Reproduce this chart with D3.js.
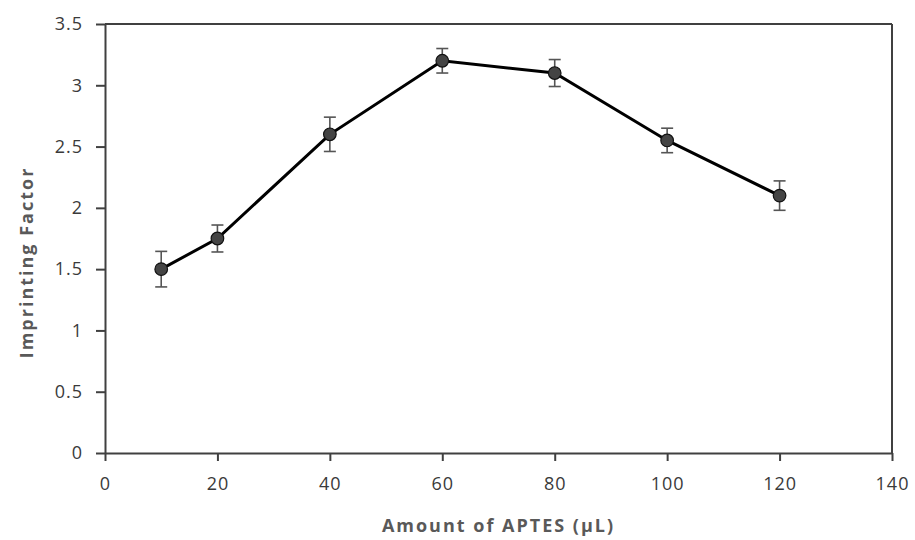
<!DOCTYPE html>
<html>
<head>
<meta charset="utf-8">
<script src="https://cdn.jsdelivr.net/npm/d3@7"></script>
<style>
  body { margin: 0; background: #fff; }
  svg { display: block; font-family: "Open Sans", "DejaVu Sans", sans-serif; }
</style>
</head>
<body>
<script>
// data
var aptes = [10, 20, 40, 60, 80, 100, 120];
var factor = [1.5, 1.75, 2.6, 3.2, 3.1, 2.55, 2.1];
var errors = [0.145, 0.11, 0.14, 0.1, 0.11, 0.1, 0.12];
var xTicks = [0, 20, 40, 60, 80, 100, 120, 140];
var yTicks = [0, 0.5, 1, 1.5, 2, 2.5, 3, 3.5];

var margin = {top: 24, right: 23, bottom: 87, left: 105};
var width = 915 - margin.left - margin.right;
var height = 540 - margin.top - margin.bottom;

var svg = d3.select("body").append("svg")
    .attr("width", 915)
    .attr("height", 540)
    .append("g")
    .attr("transform", "translate(" + margin.left + "," + margin.top + ")");

var x = d3.scaleLinear().domain([0, 140]).range([0, width]);
var y = d3.scaleLinear().domain([0, 3.5]).range([height, 0]);

// axes
var xAxis = svg.append("g")
    .attr("transform", "translate(0," + height + ")")
    .call(d3.axisBottom(x).tickValues(xTicks).tickSize(8).tickPadding(16).tickSizeOuter(0));

var yAxis = svg.append("g")
    .call(d3.axisLeft(y).tickValues(yTicks).tickSize(9).tickPadding(13).tickSizeOuter(0)
        .tickFormat(function (d) { return d; }));

[xAxis, yAxis].forEach(function (a) {
    a.attr("font-family", null).attr("font-size", null);
    a.select(".domain").attr("stroke", "#404040").attr("stroke-width", 2);
    a.selectAll(".tick line").attr("stroke", "#404040").attr("stroke-width", 2);
    a.selectAll(".tick text")
        .style("font-size", "18px")
        .style("letter-spacing", "1px")
        .attr("fill", "#3a3a3a");
});

// top and right border of the box
svg.append("line")
    .attr("x1", 0).attr("x2", width)
    .attr("y1", 0).attr("y2", 0)
    .attr("stroke", "#404040").attr("stroke-width", 2);
svg.append("line")
    .attr("x1", width).attr("x2", width)
    .attr("y1", 0).attr("y2", height)
    .attr("stroke", "#404040").attr("stroke-width", 2);

// line
var line = d3.line()
    .x(function (d, i) { return x(aptes[i]); })
    .y(function (d) { return y(d); });

svg.append("path")
    .datum(factor)
    .attr("d", line)
    .attr("fill", "none")
    .attr("stroke", "#000")
    .attr("stroke-width", 3);

// error bars
var err = svg.selectAll(".err")
    .data(factor)
    .enter().append("g")
    .attr("class", "err")
    .attr("stroke", "#555")
    .attr("stroke-width", 1.6);

err.append("line")
    .attr("x1", function (d, i) { return x(aptes[i]); })
    .attr("x2", function (d, i) { return x(aptes[i]); })
    .attr("y1", function (d, i) { return y(d + errors[i]); })
    .attr("y2", function (d, i) { return y(d - errors[i]); });

[1, -1].forEach(function (s) {
    err.append("line")
        .attr("x1", function (d, i) { return x(aptes[i]) - 6; })
        .attr("x2", function (d, i) { return x(aptes[i]) + 6; })
        .attr("y1", function (d, i) { return y(d + s * errors[i]); })
        .attr("y2", function (d, i) { return y(d + s * errors[i]); });
});

// markers
svg.selectAll(".dot")
    .data(factor)
    .enter().append("circle")
    .attr("class", "dot")
    .attr("cx", function (d, i) { return x(aptes[i]); })
    .attr("cy", function (d) { return y(d); })
    .attr("r", 6.3)
    .attr("fill", "#444")
    .attr("stroke", "#111")
    .attr("stroke-width", 1.2);

// axis titles
svg.append("text")
    .attr("x", width / 2)
    .attr("y", height + 79)
    .attr("text-anchor", "middle")
    .attr("fill", "#595959")
    .style("font-size", "18px")
    .style("font-weight", "bold")
    .style("letter-spacing", "2px")
    .text("Amount of APTES (\u00b5L)");

svg.append("text")
    .attr("transform", "translate(" + (-72) + "," + (height / 2 + 24) + ") rotate(-90)")
    .attr("text-anchor", "middle")
    .attr("fill", "#595959")
    .style("font-size", "18px")
    .style("font-weight", "bold")
    .style("letter-spacing", "2px")
    .text("Imprinting Factor");
</script>
</body>
</html>
